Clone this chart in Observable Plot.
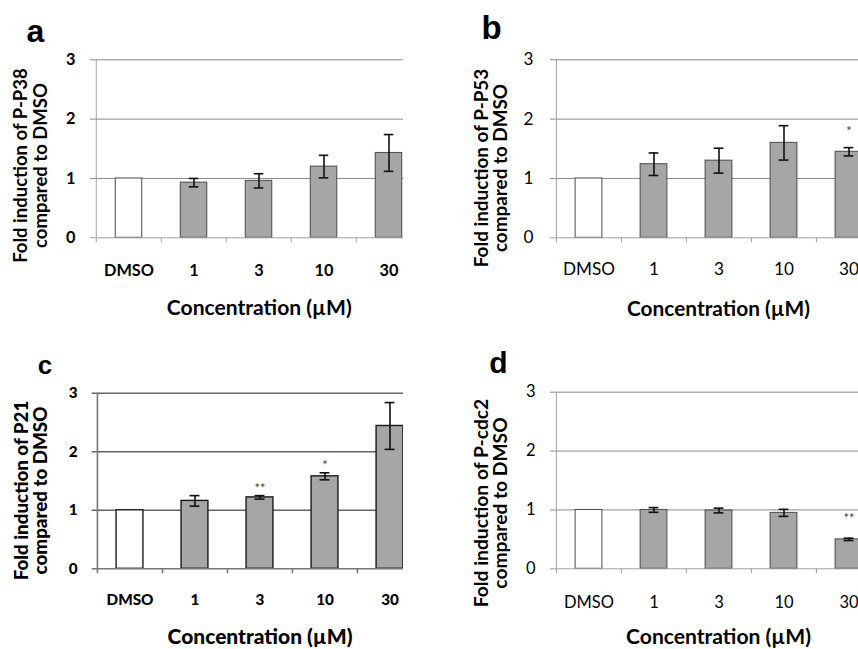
<!DOCTYPE html>
<html><head><meta charset="utf-8">
<script src="https://cdn.jsdelivr.net/npm/d3@7"></script>
<script src="https://cdn.jsdelivr.net/npm/@observablehq/plot@0.6"></script>
<style>
body{margin:0;background:#fff;}
#fig{position:relative;width:858px;height:649px;overflow:hidden;background:#fff;}
.panel{position:absolute;overflow:hidden;}
</style></head><body><div id="fig"></div>
<script>
// ---- data ----
const concentrations = ["DMSO", "1", "3", "10", "30"];
const yTicks = [0, 1, 2, 3];
const xTitle = "Concentration (µM)";

const p38Mean = [1.00, 0.93, 0.96, 1.20, 1.43];
const p38Err  = [0, 0.07, 0.12, 0.19, 0.31];
const p38Sig  = ["", "", "", "", ""];

const p53Mean = [1.00, 1.24, 1.30, 1.60, 1.45];
const p53Err  = [0, 0.19, 0.21, 0.29, 0.07];
const p53Sig  = ["", "", "", "", "*"];

const p21Mean = [1.00, 1.16, 1.22, 1.58, 2.44];
const p21Err  = [0, 0.09, 0.03, 0.06, 0.40];
const p21Sig  = ["", "", "**", "*", ""];

const cdc2Mean = [1.00, 1.00, 0.99, 0.95, 0.50];
const cdc2Err  = [0, 0.04, 0.04, 0.06, 0.02];
const cdc2Sig  = ["", "", "", "", "**"];

const panelLetters = ["a", "b", "c", "d"];
const yTitles = [
  "Fold induction of P-P38\ncompared to DMSO",
  "Fold induction of P-P53\ncompared to DMSO",
  "Fold induction of P21\ncompared to DMSO",
  "Fold induction of P-cdc2\ncompared to DMSO"
];

// ---- helpers ----
const FAMILY = "Lato";
const ctx = document.createElement("canvas").getContext("2d");
function fit(text, weight, target) {
  ctx.font = `${weight} 100px ${FAMILY}`;
  return 100 * target / ctx.measureText(text).width;
}

// ---- layout per panel (pixel geometry, local to each panel) ----
const panels = [
  {mean: p38Mean, err: p38Err, sig: p38Sig, left: 0, top: 0, width: 403, height: 320,
   axisX: 95, step: 65.5, y0: 237.3, y3: 59.3, tickWeight: 700, dmsoW: 50, yLen: 195,
   yCx: 30, yCy: 165, yLh: 20, tickY: 270, tickRight: 75, xTitleY: 308, xTitleW: 185,
   letterCx: 35, letterBase: 41, letterSize: 32, sigDy: -12, heavy: false},
  {mean: p53Mean, err: p53Err, sig: p53Sig, left: 430, top: 0, width: 428, height: 320,
   axisX: 125, step: 65.2, y0: 237.3, y3: 59.3, tickWeight: 400, dmsoW: 52, yLen: 199,
   yCx: 60.5, yCy: 167.5, yLh: 19, tickY: 269, tickRight: 103, xTitleY: 309, xTitleW: 183,
   letterCx: 61, letterBase: 38, letterSize: 33, sigDy: -16, heavy: false},
  {mean: p21Mean, err: p21Err, sig: p21Sig, left: 0, top: 320, width: 403, height: 329,
   axisX: 96.7, step: 65.15, y0: 248.3, y3: 72.7, tickWeight: 900, dmsoW: 47, yLen: 180,
   yCx: 30.5, yCy: 170, yLh: 19, tickY: 280, tickRight: 77, xTitleY: 317, xTitleW: 185,
   letterCx: 44.5, letterBase: 53, letterSize: 26, sigDy: -7, heavy: true},
  {mean: cdc2Mean, err: cdc2Err, sig: cdc2Sig, left: 430, top: 320, width: 428, height: 329,
   axisX: 125, step: 65.2, y0: 248.3, y3: 71.7, tickWeight: 400, dmsoW: 50, yLen: 209,
   yCx: 60.5, yCy: 182.5, yLh: 19, tickY: 282, tickRight: 105, xTitleY: 317, xTitleW: 185,
   letterCx: 68, letterBase: 52, letterSize: 30, sigDy: -19, heavy: false}
];

const fig = document.getElementById("fig");

panels.forEach((p, i) => {
  const rows = concentrations.map((c, j) => ({c, mean: p.mean[j], err: p.err[j], sig: p.sig[j]}));
  const errRows = rows.filter(d => d.err > 0);
  const sigRows = rows.filter(d => d.sig);

  const gridColor = p.heavy ? "#666" : "#8a8a8a";
  const gridW = p.heavy ? 1.6 : 1;
  const axisColor = p.heavy ? "#777" : "#a0a0a0";
  const barStroke = p.heavy ? "#1a1a1a" : "#4a4a4a";
  const barW = p.heavy ? 1.4 : 1;
  const barFill = "#a6a6a6";
  const barInset = (p.step - 27) / 2;
  const capInset = (p.step - 10) / 2;

  const tickSize = fit("DMSO", p.tickWeight, p.dmsoW);
  const yLine1 = yTitles[i].split("\n")[0];
  const yTitleSize = fit(yLine1, p.heavy ? 900 : 700, p.yLen);
  const xTitleSize = fit(xTitle, p.heavy ? 900 : 700, p.xTitleW);
  const xCenter = p.axisX + 2.5 * p.step;

  const chart = Plot.plot({
    width: p.width,
    height: p.height,
    marginLeft: p.axisX,
    marginRight: 0,
    marginTop: p.y3,
    marginBottom: p.height - p.y0,
    x: {domain: concentrations, range: [p.axisX, p.axisX + 5 * p.step], padding: 0, axis: null},
    y: {domain: [0, 3], axis: null},
    style: {fontFamily: FAMILY, color: "#000", background: "transparent", overflow: "hidden"},
    marks: [
      // gridlines + left ticks
      Plot.ruleY(yTicks.slice(1), {y: d => d, stroke: gridColor, strokeWidth: gridW, insetLeft: -5}),
      // y-axis line
      Plot.ruleX([concentrations[0]], {x: d => d, dx: -p.step / 2, stroke: axisColor, strokeWidth: gridW}),
      // bars
      Plot.barY(rows, {x: "c", y: "mean", fill: d => d.c === "DMSO" ? "#fff" : barFill,
        stroke: barStroke, strokeWidth: barW, insetLeft: barInset, insetRight: barInset}),
      // baseline + category boundary ticks
      Plot.ruleY([0], {y: d => d, stroke: axisColor, strokeWidth: gridW, insetLeft: -5}),
      Plot.ruleX(concentrations, {x: d => d, dx: -p.step / 2, y1: 0, y2: 0, insetBottom: -5,
        stroke: axisColor, strokeWidth: gridW}),
      // error bars
      Plot.ruleX(errRows, {x: "c", y1: d => d.mean - d.err, y2: d => d.mean + d.err, stroke: "#111", strokeWidth: 1.6}),
      Plot.tickY(errRows, {x: "c", y: d => d.mean + d.err, insetLeft: capInset, insetRight: capInset, stroke: "#111", strokeWidth: 1.6}),
      Plot.tickY(errRows, {x: "c", y: d => d.mean - d.err, insetLeft: capInset, insetRight: capInset, stroke: "#111", strokeWidth: 1.6}),
      // significance
      Plot.text(sigRows, {x: "c", y: d => d.mean + d.err, text: "sig", dy: p.sigDy, fontSize: 13, fill: "#444",
        textAnchor: "middle", lineAnchor: "middle"}),
      // y tick labels
      Plot.text(yTicks, {y: d => d, text: d => String(d), frameAnchor: "left", dx: p.tickRight - p.axisX,
        textAnchor: "end", lineAnchor: "middle", fontSize: tickSize, fontWeight: p.tickWeight, fill: "#000"}),
      // x tick labels
      Plot.text(concentrations, {x: d => d, text: d => d, frameAnchor: "bottom", dy: p.tickY - p.y0,
        textAnchor: "middle", lineAnchor: "middle", fontSize: tickSize, fontWeight: p.tickWeight, fill: "#000"}),
      // x title
      Plot.text([xTitle], {frameAnchor: "top-left", dx: xCenter - p.axisX, dy: p.xTitleY - p.y3,
        textAnchor: "middle", lineAnchor: "middle",
        fontSize: xTitleSize, fontWeight: p.heavy ? 900 : 700, fill: "#000"}),
      // y title
      Plot.text([yTitles[i]], {frameAnchor: "top-left", dx: p.yCx - p.axisX, dy: p.yCy - p.y3,
        rotate: -90, textAnchor: "middle", lineAnchor: "middle", lineHeight: p.yLh / yTitleSize,
        fontSize: yTitleSize, fontWeight: p.heavy ? 900 : 700, fill: "#000"}),
      // panel letter
      Plot.text([panelLetters[i]], {frameAnchor: "top-left", dx: p.letterCx - p.axisX,
        dy: p.letterBase - 0.32 * p.letterSize - p.y3, textAnchor: "middle", lineAnchor: "middle",
        fontSize: p.letterSize, fontWeight: 700,
        fontFamily: "'Liberation Sans', Arial, sans-serif", fill: "#000"})
    ]
  });

  const div = document.createElement("div");
  div.className = "panel";
  div.style.left = p.left + "px";
  div.style.top = p.top + "px";
  div.style.width = p.width + "px";
  div.style.height = p.height + "px";
  div.appendChild(chart);
  fig.appendChild(div);
});
</script></body></html>
